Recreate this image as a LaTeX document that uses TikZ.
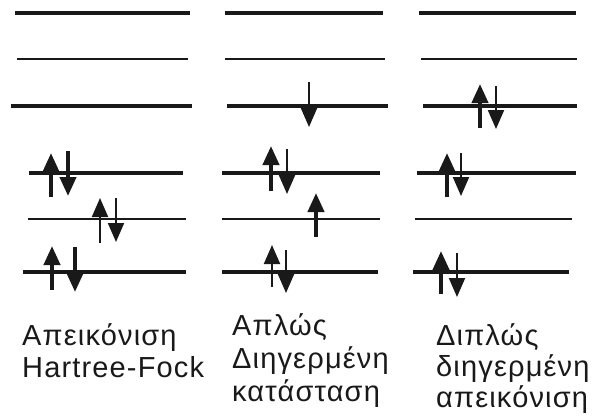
\documentclass[tikz,border=0pt]{standalone}
\usepackage{fontspec}
\setmainfont{Liberation Sans}
\newfontfamily\lblfont[LetterSpace=4]{Liberation Sans}
\usetikzlibrary{arrows.meta}
\tikzset{
  lvlthick/.style={line width=4pt, black!90},
  lvlthin/.style={line width=2pt, black!90},
  spinthick/.style={line width=4pt, black!90, -{Triangle[width=16pt,length=19pt]}},
  spinthin/.style={line width=2pt, black!90, -{Triangle[width=16pt,length=19pt]}},
  lbl/.style={anchor=base west, inner sep=0pt, font=\lblfont\fontsize{29}{32}\selectfont, text=black!90}
}
\begin{document}
\begin{tikzpicture}[x=1pt,y=-1pt]
\useasboundingbox (0,0) rectangle (594,415);

% ---- Hartree-Fock configuration ----
\draw[lvlthick] (15,13) -- (190,13);
\draw[lvlthin]  (17,59) -- (188,59);
\draw[lvlthick] (11,106) -- (192,106);
\draw[lvlthick] (29,173) -- (183,173);
\draw[lvlthin]  (28,219) -- (186,219);
\draw[lvlthick] (23,272) -- (186,272);
\draw[spinthick] (51,197) -- (51,153);
\draw[spinthick] (68,151) -- (68,196);
\draw[spinthin]  (100,243) -- (100,198);
\draw[spinthin]  (116,198) -- (116,242);
\draw[spinthick] (52,290) -- (52,246);
\draw[spinthick] (75,247) -- (75,292);

% ---- singly excited state ----
\draw[lvlthick] (225,13) -- (383,13);
\draw[lvlthin]  (225,59) -- (385,59);
\draw[lvlthick] (227,106) -- (388,106);
\draw[lvlthick] (222,173) -- (380,173);
\draw[lvlthin]  (222,219) -- (380,219);
\draw[lvlthick] (222,272) -- (378,272);
\draw[spinthin]  (309,82) -- (309,127);
\draw[spinthick] (271,191) -- (271,146);
\draw[spinthin]  (287,149) -- (287,194);
\draw[spinthick] (316,237) -- (316,193);
\draw[spinthin]  (272,287) -- (272,245);
\draw[spinthin]  (286,250) -- (286,293);

% ---- doubly excited configuration ----
\draw[lvlthick] (419,13) -- (576,13);
\draw[lvlthin]  (421,59) -- (577,59);
\draw[lvlthick] (423,106) -- (577,106);
\draw[lvlthick] (417,173) -- (576,173);
\draw[lvlthin]  (415,219) -- (572,219);
\draw[lvlthick] (413,272) -- (569,272);
\draw[spinthick] (480,128) -- (480,84);
\draw[spinthin]  (496,86) -- (496,129);
\draw[spinthick] (447,197) -- (447,153);
\draw[spinthin]  (461,153) -- (461,196);
\draw[spinthick] (441,294) -- (441,251);
\draw[spinthin]  (457,253) -- (457,297);

% ---- captions ----
\node[lbl] (hf1) at (22,345) {Απεικόνιση};
\node[lbl] (hf2) at (22,377) {Hartree-Fock};
\node[lbl] (se1) at (232,335) {Απλώς};
\node[lbl] (se2) at (232,368) {Διηγερμένη};
\node[lbl] (se3) at (232,401) {κατάσταση};
\node[lbl] (de1) at (436,345) {Διπλώς};
\node[lbl] (de2) at (436,376) {διηγερμένη};
\node[lbl] (de3) at (436,407) {απεικόνιση};
\end{tikzpicture}
\end{document}
